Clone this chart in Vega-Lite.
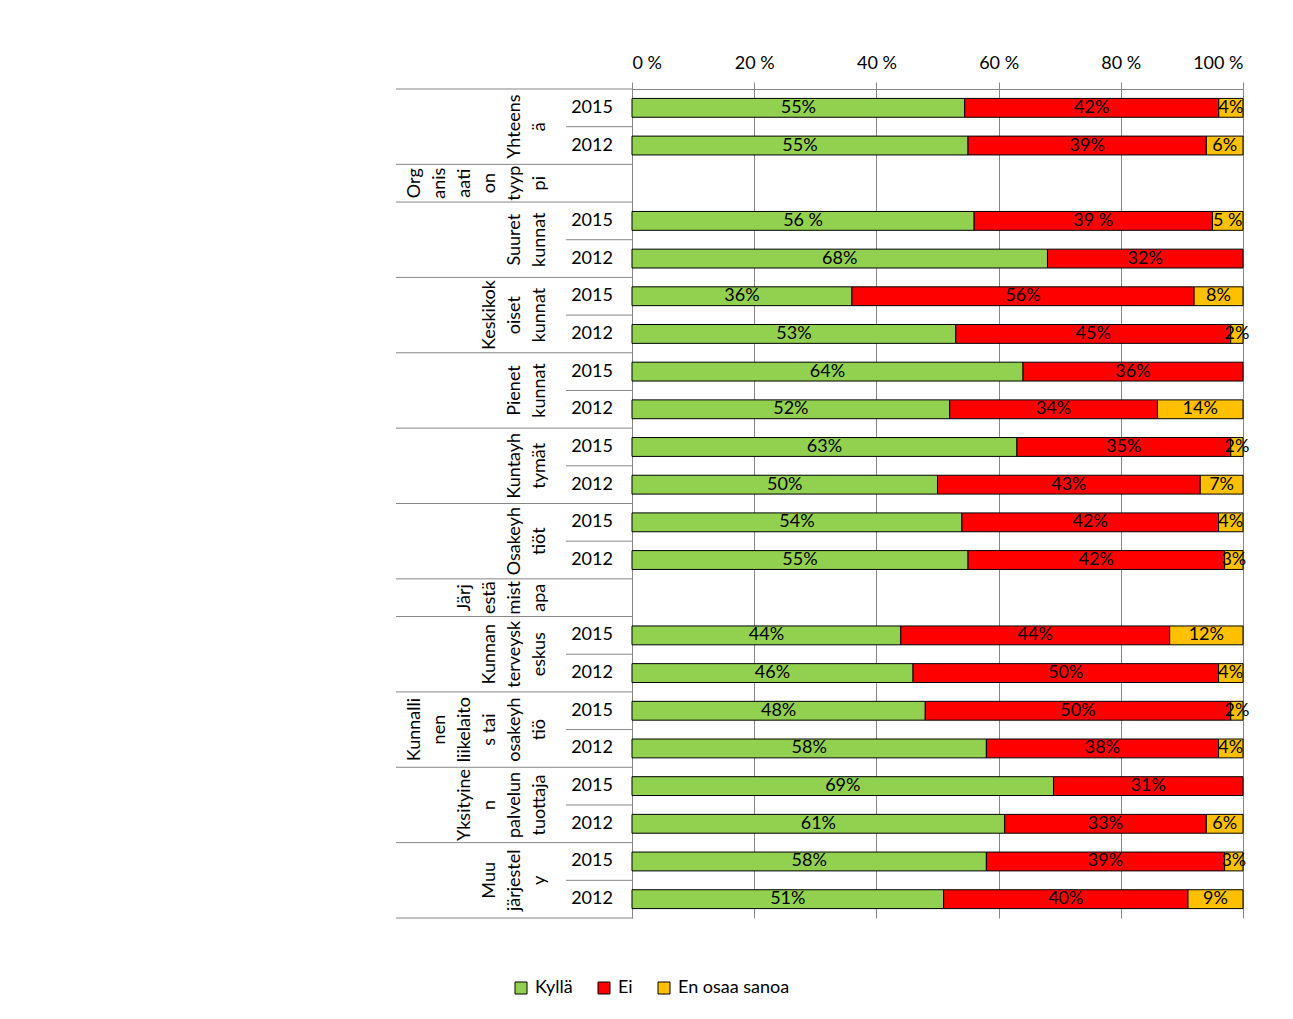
{
  "$schema": "https://vega.github.io/schema/vega-lite/v6.json",
  "padding": {"left": 395, "top": 54, "right": 5, "bottom": 5},
  "background": "white",
  "spacing": 0,
  "bounds": "flush",
  "config": {"view": {"stroke": null}, "font": "Lato"},
  "datasets": {
    "answers": [
      {"row": "Yhteensä 2015", "answer": "Kyllä", "k": 1, "value": 55, "label": "55%"},
      {"row": "Yhteensä 2015", "answer": "Ei", "k": 2, "value": 42, "label": "42%"},
      {"row": "Yhteensä 2015", "answer": "En osaa sanoa", "k": 3, "value": 4, "label": "4%"},
      {"row": "Yhteensä 2012", "answer": "Kyllä", "k": 1, "value": 55, "label": "55%"},
      {"row": "Yhteensä 2012", "answer": "Ei", "k": 2, "value": 39, "label": "39%"},
      {"row": "Yhteensä 2012", "answer": "En osaa sanoa", "k": 3, "value": 6, "label": "6%"},
      {"row": "Suuret kunnat 2015", "answer": "Kyllä", "k": 1, "value": 56, "label": "56 %"},
      {"row": "Suuret kunnat 2015", "answer": "Ei", "k": 2, "value": 39, "label": "39 %"},
      {"row": "Suuret kunnat 2015", "answer": "En osaa sanoa", "k": 3, "value": 5, "label": "5 %"},
      {"row": "Suuret kunnat 2012", "answer": "Kyllä", "k": 1, "value": 68, "label": "68%"},
      {"row": "Suuret kunnat 2012", "answer": "Ei", "k": 2, "value": 32, "label": "32%"},
      {"row": "Keskikokoiset kunnat 2015", "answer": "Kyllä", "k": 1, "value": 36, "label": "36%"},
      {"row": "Keskikokoiset kunnat 2015", "answer": "Ei", "k": 2, "value": 56, "label": "56%"},
      {"row": "Keskikokoiset kunnat 2015", "answer": "En osaa sanoa", "k": 3, "value": 8, "label": "8%"},
      {"row": "Keskikokoiset kunnat 2012", "answer": "Kyllä", "k": 1, "value": 53, "label": "53%"},
      {"row": "Keskikokoiset kunnat 2012", "answer": "Ei", "k": 2, "value": 45, "label": "45%"},
      {"row": "Keskikokoiset kunnat 2012", "answer": "En osaa sanoa", "k": 3, "value": 2, "label": "2%"},
      {"row": "Pienet kunnat 2015", "answer": "Kyllä", "k": 1, "value": 64, "label": "64%"},
      {"row": "Pienet kunnat 2015", "answer": "Ei", "k": 2, "value": 36, "label": "36%"},
      {"row": "Pienet kunnat 2012", "answer": "Kyllä", "k": 1, "value": 52, "label": "52%"},
      {"row": "Pienet kunnat 2012", "answer": "Ei", "k": 2, "value": 34, "label": "34%"},
      {"row": "Pienet kunnat 2012", "answer": "En osaa sanoa", "k": 3, "value": 14, "label": "14%"},
      {"row": "Kuntayhtymät 2015", "answer": "Kyllä", "k": 1, "value": 63, "label": "63%"},
      {"row": "Kuntayhtymät 2015", "answer": "Ei", "k": 2, "value": 35, "label": "35%"},
      {"row": "Kuntayhtymät 2015", "answer": "En osaa sanoa", "k": 3, "value": 2, "label": "2%"},
      {"row": "Kuntayhtymät 2012", "answer": "Kyllä", "k": 1, "value": 50, "label": "50%"},
      {"row": "Kuntayhtymät 2012", "answer": "Ei", "k": 2, "value": 43, "label": "43%"},
      {"row": "Kuntayhtymät 2012", "answer": "En osaa sanoa", "k": 3, "value": 7, "label": "7%"},
      {"row": "Osakeyhtiöt 2015", "answer": "Kyllä", "k": 1, "value": 54, "label": "54%"},
      {"row": "Osakeyhtiöt 2015", "answer": "Ei", "k": 2, "value": 42, "label": "42%"},
      {"row": "Osakeyhtiöt 2015", "answer": "En osaa sanoa", "k": 3, "value": 4, "label": "4%"},
      {"row": "Osakeyhtiöt 2012", "answer": "Kyllä", "k": 1, "value": 55, "label": "55%"},
      {"row": "Osakeyhtiöt 2012", "answer": "Ei", "k": 2, "value": 42, "label": "42%"},
      {"row": "Osakeyhtiöt 2012", "answer": "En osaa sanoa", "k": 3, "value": 3, "label": "3%"},
      {"row": "Kunnan terveyskeskus 2015", "answer": "Kyllä", "k": 1, "value": 44, "label": "44%"},
      {"row": "Kunnan terveyskeskus 2015", "answer": "Ei", "k": 2, "value": 44, "label": "44%"},
      {"row": "Kunnan terveyskeskus 2015", "answer": "En osaa sanoa", "k": 3, "value": 12, "label": "12%"},
      {"row": "Kunnan terveyskeskus 2012", "answer": "Kyllä", "k": 1, "value": 46, "label": "46%"},
      {"row": "Kunnan terveyskeskus 2012", "answer": "Ei", "k": 2, "value": 50, "label": "50%"},
      {"row": "Kunnan terveyskeskus 2012", "answer": "En osaa sanoa", "k": 3, "value": 4, "label": "4%"},
      {"row": "Kunnallinen liikelaitos tai osakeyhtiö 2015", "answer": "Kyllä", "k": 1, "value": 48, "label": "48%"},
      {"row": "Kunnallinen liikelaitos tai osakeyhtiö 2015", "answer": "Ei", "k": 2, "value": 50, "label": "50%"},
      {"row": "Kunnallinen liikelaitos tai osakeyhtiö 2015", "answer": "En osaa sanoa", "k": 3, "value": 2, "label": "2%"},
      {"row": "Kunnallinen liikelaitos tai osakeyhtiö 2012", "answer": "Kyllä", "k": 1, "value": 58, "label": "58%"},
      {"row": "Kunnallinen liikelaitos tai osakeyhtiö 2012", "answer": "Ei", "k": 2, "value": 38, "label": "38%"},
      {"row": "Kunnallinen liikelaitos tai osakeyhtiö 2012", "answer": "En osaa sanoa", "k": 3, "value": 4, "label": "4%"},
      {"row": "Yksityinen palvelun tuottaja 2015", "answer": "Kyllä", "k": 1, "value": 69, "label": "69%"},
      {"row": "Yksityinen palvelun tuottaja 2015", "answer": "Ei", "k": 2, "value": 31, "label": "31%"},
      {"row": "Yksityinen palvelun tuottaja 2012", "answer": "Kyllä", "k": 1, "value": 61, "label": "61%"},
      {"row": "Yksityinen palvelun tuottaja 2012", "answer": "Ei", "k": 2, "value": 33, "label": "33%"},
      {"row": "Yksityinen palvelun tuottaja 2012", "answer": "En osaa sanoa", "k": 3, "value": 6, "label": "6%"},
      {"row": "Muu järjestely 2015", "answer": "Kyllä", "k": 1, "value": 58, "label": "58%"},
      {"row": "Muu järjestely 2015", "answer": "Ei", "k": 2, "value": 39, "label": "39%"},
      {"row": "Muu järjestely 2015", "answer": "En osaa sanoa", "k": 3, "value": 3, "label": "3%"},
      {"row": "Muu järjestely 2012", "answer": "Kyllä", "k": 1, "value": 51, "label": "51%"},
      {"row": "Muu järjestely 2012", "answer": "Ei", "k": 2, "value": 40, "label": "40%"},
      {"row": "Muu järjestely 2012", "answer": "En osaa sanoa", "k": 3, "value": 9, "label": "9%"}
    ],
    "yearRows": [
      {"row": "Yhteensä 2015", "year": "2015"}, {"row": "Yhteensä 2012", "year": "2012"},
      {"row": "Suuret kunnat 2015", "year": "2015"}, {"row": "Suuret kunnat 2012", "year": "2012"},
      {"row": "Keskikokoiset kunnat 2015", "year": "2015"}, {"row": "Keskikokoiset kunnat 2012", "year": "2012"},
      {"row": "Pienet kunnat 2015", "year": "2015"}, {"row": "Pienet kunnat 2012", "year": "2012"},
      {"row": "Kuntayhtymät 2015", "year": "2015"}, {"row": "Kuntayhtymät 2012", "year": "2012"},
      {"row": "Osakeyhtiöt 2015", "year": "2015"}, {"row": "Osakeyhtiöt 2012", "year": "2012"},
      {"row": "Kunnan terveyskeskus 2015", "year": "2015"}, {"row": "Kunnan terveyskeskus 2012", "year": "2012"},
      {"row": "Kunnallinen liikelaitos tai osakeyhtiö 2015", "year": "2015"}, {"row": "Kunnallinen liikelaitos tai osakeyhtiö 2012", "year": "2012"},
      {"row": "Yksityinen palvelun tuottaja 2015", "year": "2015"}, {"row": "Yksityinen palvelun tuottaja 2012", "year": "2012"},
      {"row": "Muu järjestely 2015", "year": "2015"}, {"row": "Muu järjestely 2012", "year": "2012"}
    ],
    "groupStarts": [
      {"row": "Yhteensä 2015"}, {"row": "Organisaatiotyyppi"}, {"row": "Suuret kunnat 2015"},
      {"row": "Keskikokoiset kunnat 2015"}, {"row": "Pienet kunnat 2015"}, {"row": "Kuntayhtymät 2015"},
      {"row": "Osakeyhtiöt 2015"}, {"row": "Järjestämistapa"}, {"row": "Kunnan terveyskeskus 2015"},
      {"row": "Kunnallinen liikelaitos tai osakeyhtiö 2015"}, {"row": "Yksityinen palvelun tuottaja 2015"},
      {"row": "Muu järjestely 2015"}
    ],
    "lastRow": [{"row": "Muu järjestely 2012"}],
    "groups": [
      {"row": "Yhteensä 2012", "name": "Yhteens\nä"},
      {"row": "Suuret kunnat 2012", "name": "Suuret\nkunnat"},
      {"row": "Keskikokoiset kunnat 2012", "name": "Keskikok\noiset\nkunnat"},
      {"row": "Pienet kunnat 2012", "name": "Pienet\nkunnat"},
      {"row": "Kuntayhtymät 2012", "name": "Kuntayh\ntymät"},
      {"row": "Osakeyhtiöt 2012", "name": "Osakeyh\ntiöt"},
      {"row": "Kunnan terveyskeskus 2012", "name": "Kunnan\nterveysk\neskus"},
      {"row": "Kunnallinen liikelaitos tai osakeyhtiö 2012", "name": "Kunnalli\nnen\nliikelaito\ns tai\nosakeyh\ntiö"},
      {"row": "Yksityinen palvelun tuottaja 2012", "name": "Yksityine\nn\npalvelun\ntuottaja"},
      {"row": "Muu järjestely 2012", "name": "Muu\njärjestel\ny"}
    ],
    "headers": [
      {"row": "Organisaatiotyyppi", "name": "Org\nanis\naati\non\ntyyp\npi"},
      {"row": "Järjestämistapa", "name": "Järj\nestä\nmist\napa"}
    ]
  },
  "hconcat": [
    {
      "width": 170,
      "height": 829,
      "layer": [
        {
          "data": {"name": "groupStarts"},
          "mark": {"type": "rule", "color": "#868686", "strokeWidth": 1},
          "encoding": {"y": {"field": "row", "type": "nominal", "bandPosition": 0, "axis": null,
            "scale": {"paddingInner": 0, "paddingOuter": 0, "domain": ["Yhteensä 2015","Yhteensä 2012","Organisaatiotyyppi","Suuret kunnat 2015","Suuret kunnat 2012","Keskikokoiset kunnat 2015","Keskikokoiset kunnat 2012","Pienet kunnat 2015","Pienet kunnat 2012","Kuntayhtymät 2015","Kuntayhtymät 2012","Osakeyhtiöt 2015","Osakeyhtiöt 2012","Järjestämistapa","Kunnan terveyskeskus 2015","Kunnan terveyskeskus 2012","Kunnallinen liikelaitos tai osakeyhtiö 2015","Kunnallinen liikelaitos tai osakeyhtiö 2012","Yksityinen palvelun tuottaja 2015","Yksityinen palvelun tuottaja 2012","Muu järjestely 2015","Muu järjestely 2012"]}}}
        },
        {
          "data": {"name": "lastRow"},
          "mark": {"type": "rule", "color": "#868686", "strokeWidth": 1},
          "encoding": {"y": {"field": "row", "type": "nominal", "bandPosition": 1, "axis": null}}
        },
        {
          "data": {"name": "groups"},
          "transform": [{"filter": "length(split(datum.name, '\\n')) == 2"}],
          "mark": {"type": "text", "angle": 270, "align": "center", "baseline": "bottom", "lineBreak": "\n", "lineHeight": 25, "fontSize": 18, "font": "Lato", "color": "black", "dy": 43},
          "encoding": {
            "y": {"field": "row", "type": "nominal", "bandPosition": 0, "axis": null},
            "text": {"field": "name"}
          }
        },
        {
          "data": {"name": "groups"},
          "transform": [{"filter": "length(split(datum.name, '\\n')) == 3"}],
          "mark": {"type": "text", "angle": 270, "align": "center", "baseline": "bottom", "lineBreak": "\n", "lineHeight": 25, "fontSize": 18, "font": "Lato", "color": "black", "dy": 18},
          "encoding": {
            "y": {"field": "row", "type": "nominal", "bandPosition": 0, "axis": null},
            "text": {"field": "name"}
          }
        },
        {
          "data": {"name": "groups"},
          "transform": [{"filter": "length(split(datum.name, '\\n')) == 4"}],
          "mark": {"type": "text", "angle": 270, "align": "center", "baseline": "bottom", "lineBreak": "\n", "lineHeight": 25, "fontSize": 18, "font": "Lato", "color": "black", "dy": -7},
          "encoding": {
            "y": {"field": "row", "type": "nominal", "bandPosition": 0, "axis": null},
            "text": {"field": "name"}
          }
        },
        {
          "data": {"name": "groups"},
          "transform": [{"filter": "length(split(datum.name, '\\n')) == 6"}],
          "mark": {"type": "text", "angle": 270, "align": "center", "baseline": "bottom", "lineBreak": "\n", "lineHeight": 25, "fontSize": 18, "font": "Lato", "color": "black", "dy": -57},
          "encoding": {
            "y": {"field": "row", "type": "nominal", "bandPosition": 0, "axis": null},
            "text": {"field": "name"}
          }
        },
        {
          "data": {"name": "headers"},
          "transform": [{"filter": "length(split(datum.name, '\\n')) == 6"}],
          "mark": {"type": "text", "angle": 270, "align": "center", "baseline": "bottom", "lineBreak": "\n", "lineHeight": 25, "fontSize": 18, "font": "Lato", "color": "black", "dy": -57},
          "encoding": {
            "y": {"field": "row", "type": "nominal", "bandPosition": 0.5, "axis": null},
            "text": {"field": "name"}
          }
        },
        {
          "data": {"name": "headers"},
          "transform": [{"filter": "length(split(datum.name, '\\n')) == 4"}],
          "mark": {"type": "text", "angle": 270, "align": "center", "baseline": "bottom", "lineBreak": "\n", "lineHeight": 25, "fontSize": 18, "font": "Lato", "color": "black", "dy": -7},
          "encoding": {
            "y": {"field": "row", "type": "nominal", "bandPosition": 0.5, "axis": null},
            "text": {"field": "name"}
          }
        }
      ]
    },
    {
      "width": 66,
      "height": 829,
      "layer": [
        {
          "data": {"name": "groupStarts"},
          "mark": {"type": "rule", "color": "#868686", "strokeWidth": 1},
          "encoding": {"y": {"field": "row", "type": "nominal", "bandPosition": 0, "axis": null,
            "scale": {"paddingInner": 0, "paddingOuter": 0, "domain": ["Yhteensä 2015","Yhteensä 2012","Organisaatiotyyppi","Suuret kunnat 2015","Suuret kunnat 2012","Keskikokoiset kunnat 2015","Keskikokoiset kunnat 2012","Pienet kunnat 2015","Pienet kunnat 2012","Kuntayhtymät 2015","Kuntayhtymät 2012","Osakeyhtiöt 2015","Osakeyhtiöt 2012","Järjestämistapa","Kunnan terveyskeskus 2015","Kunnan terveyskeskus 2012","Kunnallinen liikelaitos tai osakeyhtiö 2015","Kunnallinen liikelaitos tai osakeyhtiö 2012","Yksityinen palvelun tuottaja 2015","Yksityinen palvelun tuottaja 2012","Muu järjestely 2015","Muu järjestely 2012"]}}}
        },
        {
          "data": {"name": "lastRow"},
          "mark": {"type": "rule", "color": "#868686", "strokeWidth": 1},
          "encoding": {"y": {"field": "row", "type": "nominal", "bandPosition": 1, "axis": null}}
        },
        {
          "data": {"name": "yearRows"},
          "transform": [{"filter": "datum.year == '2012'"}],
          "mark": {"type": "rule", "color": "#868686", "strokeWidth": 1},
          "encoding": {"y": {"field": "row", "type": "nominal", "bandPosition": 0, "axis": null}}
        },
        {
          "data": {"name": "yearRows"},
          "mark": {"type": "text", "align": "center", "baseline": "middle", "fontSize": 18, "font": "Lato", "color": "black", "dx": -7},
          "encoding": {
            "y": {"field": "row", "type": "nominal", "axis": null},
            "text": {"field": "year"}
          }
        }
      ]
    },
    {
      "width": 611,
      "height": 829,
      "data": {"name": "answers"},
      "layer": [
        {
          "mark": {"type": "bar", "stroke": "black", "strokeWidth": 1},
          "encoding": {
            "y": {"field": "row", "type": "nominal",
              "axis": {"labels": false, "ticks": false, "domain": true, "domainColor": "#868686", "grid": false, "title": null, "minExtent": 0, "maxExtent": 0},
              "scale": {"paddingInner": 0.5, "paddingOuter": 0.25, "domain": ["Yhteensä 2015","Yhteensä 2012","Organisaatiotyyppi","Suuret kunnat 2015","Suuret kunnat 2012","Keskikokoiset kunnat 2015","Keskikokoiset kunnat 2012","Pienet kunnat 2015","Pienet kunnat 2012","Kuntayhtymät 2015","Kuntayhtymät 2012","Osakeyhtiöt 2015","Osakeyhtiöt 2012","Järjestämistapa","Kunnan terveyskeskus 2015","Kunnan terveyskeskus 2012","Kunnallinen liikelaitos tai osakeyhtiö 2015","Kunnallinen liikelaitos tai osakeyhtiö 2012","Yksityinen palvelun tuottaja 2015","Yksityinen palvelun tuottaja 2012","Muu järjestely 2015","Muu järjestely 2012"]}},
            "x": {"field": "value", "type": "quantitative", "stack": "normalize",
              "scale": {"domain": [0, 1], "nice": false},
              "axis": {"orient": "top", "values": [0, 0.2, 0.4, 0.6, 0.8, 1], "labelExpr": "round(datum.value*100) + ' %'",
                "grid": true, "gridColor": "#868686", "domainColor": "#868686", "tickColor": "#868686", "tickSize": 7,
                "labelFontSize": 18, "labelFont": "Lato", "labelColor": "black", "labelPadding": 10, "title": null}},
            "color": {"field": "answer", "type": "nominal", "sort": ["Kyllä", "Ei", "En osaa sanoa"],
              "scale": {"domain": ["Kyllä", "Ei", "En osaa sanoa"], "range": ["#92D050", "#FF0000", "#FFC000"]},
              "legend": {"orient": "none", "legendX": 116, "legendY": 890, "direction": "horizontal", "title": null,
                "symbolType": "square", "symbolSize": 144, "symbolStrokeColor": "black", "symbolStrokeWidth": 1, "symbolOpacity": 1,
                "labelFontSize": 18, "labelFont": "Lato", "labelColor": "black", "columnPadding": 22, "labelOffset": 5}},
            "order": {"field": "k", "type": "quantitative"}
          }
        },
        {
          "mark": {"type": "text", "align": "center", "baseline": "middle", "fontSize": 18, "font": "Lato", "color": "black"},
          "encoding": {
            "y": {"field": "row", "type": "nominal"},
            "x": {"field": "value", "type": "quantitative", "stack": "normalize", "bandPosition": 0.5},
            "detail": {"field": "answer"},
            "order": {"field": "k", "type": "quantitative"},
            "text": {"field": "label"}
          }
        }
      ]
    }
  ]
}
